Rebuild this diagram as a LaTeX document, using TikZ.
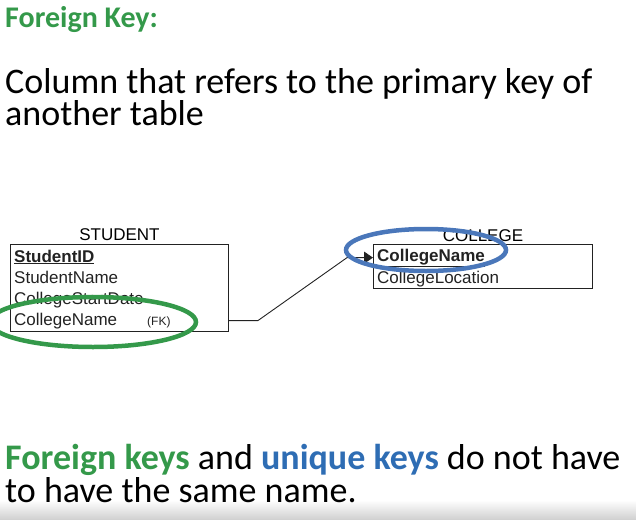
\documentclass[tikz,border=0pt]{standalone}
\usepackage{fontspec}
\setmainfont{Carlito}
\newfontfamily\tablefont{Liberation Sans}
\usepackage{tikz}
\usetikzlibrary{shapes.geometric,arrows.meta,positioning,calc}
\definecolor{KeyGreen}{HTML}{34994A}
\definecolor{KeyBlue} {HTML}{2E6DB4}
\definecolor{RingBlue}{HTML}{4A77BA}
\definecolor{InkGray} {HTML}{222222}
\tikzset{
  slidetext/.style={anchor=base west,align=left,inner sep=0pt,text=black,
    font=\fontsize{36}{30.5}\selectfont},
  tablebox/.style={draw=InkGray,line width=0.9pt,anchor=north west,inner sep=0pt},
  tabletitle/.style={anchor=base,inner sep=1pt,font=\tablefont\fontsize{17}{18}\selectfont},
  colrow/.style={anchor=base west,inner sep=1pt,text=InkGray,font=\tablefont\fontsize{17}{18}\selectfont},
  ring/.style={ellipse,draw=#1,line width=4.5pt,inner sep=0pt},
  connector/.style={draw=InkGray,line width=0.9pt,-{Triangle[length=9pt,width=12pt]}}
}
\begin{document}
\begin{tikzpicture}[x=1pt,y=-1pt]
    \useasboundingbox (0,0) rectangle (636,519);
    % faint video shade at the bottom
    \shade[top color=white,bottom color=black!18] (0,500) rectangle (636,519);
    % slide texts (base = last line)
    \node[slidetext,text=KeyGreen,font=\fontsize{30}{32}\selectfont\bfseries] (title) at (5,28) {Foreign Key:};
    \node[slidetext] (intro) at (5,125) {Column that refers to the primary key of\\another table};
    \node[slidetext] (note) at (5,502) {\textcolor{KeyGreen}{\bfseries Foreign keys} and
      \textcolor{KeyBlue}{\bfseries unique keys} do not have\\to have the same name.};
    % STUDENT table
    \node[tablebox,minimum width=218pt,minimum height=87pt] (student) at (10,244) {};
    \node[tabletitle] (studentlbl) at ([yshift=4pt]student.north) {STUDENT};
    \foreach \i/\col in {
      1/\underline{\textbf{StudentID}},
      2/StudentName,
      3/CollegeStartDate,
      4/CollegeName%
    }{
      \node[colrow] (s\i) at (13,{262+21*(\i-1)}) {\col};
    }
    \node[colrow,font=\tablefont\fontsize{12}{13}\selectfont] (fk) at (146,325) {(FK)};
    % COLLEGE table
    \node[tablebox,minimum width=219pt,minimum height=44pt] (college) at (373,244) {};
    \node[tabletitle] (collegelbl) at ([yshift=3pt]college.north) {COLLEGE};
    \foreach \i/\col in {
      1/\underline{\textbf{CollegeName}},
      2/CollegeLocation%
    }{
      \node[colrow] (c\i) at (376,{261+22*(\i-1)}) {\col};
    }
    % relationship line
    \draw[connector] (student.east |- s4) -- ++(29,0) coordinate (bendA)
      -- ($(college.west |- c1)+(-26,0)$) coordinate (bendB) -- (college.west |- c1);
    % highlight rings
    \node[ring=KeyGreen,minimum width=206pt,minimum height=50pt] (fkring) at (93,322) {};
    \node[ring=RingBlue,minimum width=160pt,minimum height=42pt] (pkring) at (426,250) {};
\end{tikzpicture}
\end{document}
